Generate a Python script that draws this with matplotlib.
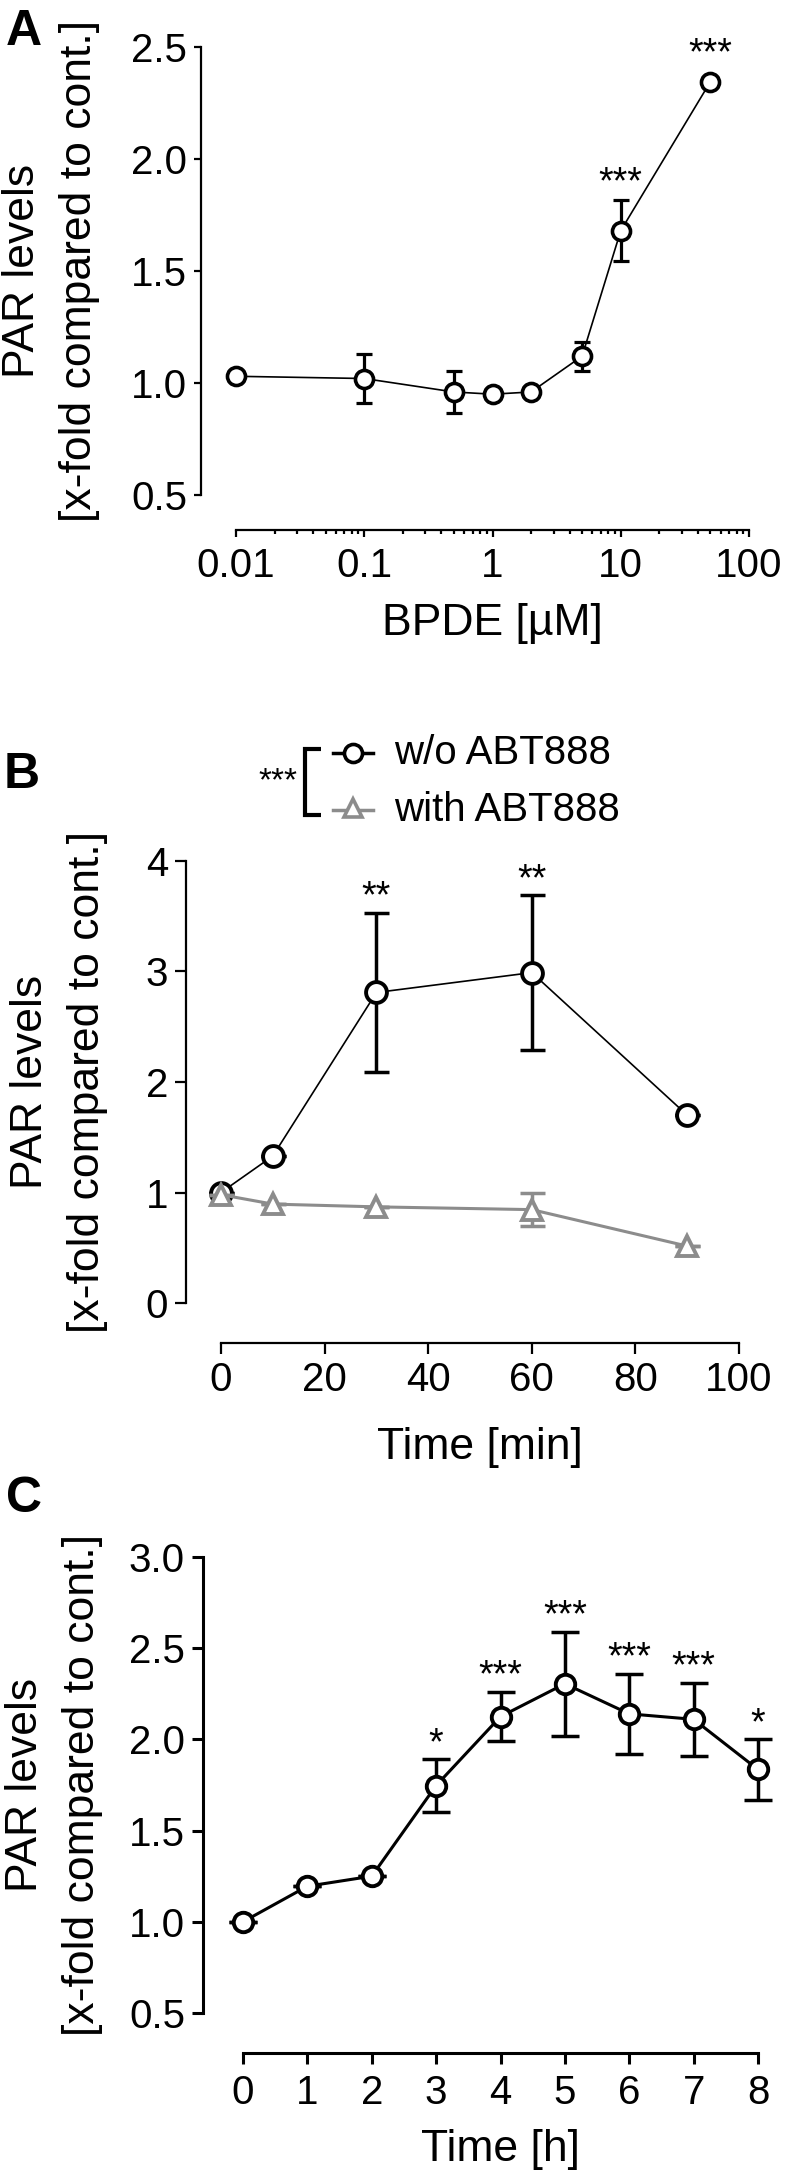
import matplotlib.pyplot as plt
import numpy as np

plt.rcParams['font.family'] = ['Liberation Sans', 'DejaVu Sans']

# panel A - BPDE dose response
bpde_conc = [0.01, 0.1, 0.5, 1, 2, 5, 10, 50]
bpde_par = [1.03, 1.02, 0.96, 0.95, 0.96, 1.12, 1.68, 2.345]
bpde_err = [0.0, 0.11, 0.095, 0.0, 0.0, 0.065, 0.135, 0.0]
bpde_stars = ['', '', '', '', '', '', '***', '***']

# panel B - time course with / without ABT888
time_min = [0, 10, 30, 60, 90]
wo_abt = [1.0, 1.33, 2.81, 2.99, 1.70]
wo_abt_err = [0.0, 0.0, 0.72, 0.70, 0.0]
wo_stars = ['', '', '**', '**', '']
with_abt = [0.98, 0.895, 0.87, 0.845, 0.515]
with_abt_err = [0.0, 0.0, 0.0, 0.15, 0.0]

# panel C - time course in hours
time_h = [0, 1, 2, 3, 4, 5, 6, 7, 8]
par_h = [1.0, 1.195, 1.25, 1.747, 2.125, 2.305, 2.14, 2.11, 1.835]
par_h_err = [0.0, 0.0, 0.0, 0.145, 0.135, 0.285, 0.22, 0.2, 0.165]
par_h_stars = ['', '', '', '*', '***', '***', '***', '***', '*']

ylab1 = 'PAR levels'
ylab2 = '[x-fold compared to cont.]'
gray = '#8c8c8c'

W, H = 787, 2177
fig = plt.figure(figsize=(W / 100, H / 100), dpi=100)


def px_axes(x0, x1, ytop, ybot):
    return fig.add_axes([x0 / W, 1 - ybot / H, (x1 - x0) / W, (ybot - ytop) / H])


def style(ax, left_off, bot_off, lw, tl, xpad):
    for s in ['top', 'right']:
        ax.spines[s].set_visible(False)
    ax.spines['left'].set_position(('outward', left_off * 0.72))
    ax.spines['bottom'].set_position(('outward', bot_off * 0.72))
    for s in ['left', 'bottom']:
        ax.spines[s].set_linewidth(lw)
    ax.tick_params(direction='out', length=tl, width=lw, labelsize=29)
    ax.tick_params(axis='y', pad=5)
    ax.tick_params(axis='x', pad=xpad)
    ax.patch.set_visible(False)


def stars(ax, xs, tops, labels, off=12):
    for x, t, s in zip(xs, tops, labels):
        if s:
            ax.annotate(s, xy=(x, t), xytext=(0, off), textcoords='offset points',
                        ha='center', va='center', fontsize=27, annotation_clip=False)


ov = fig.add_axes([0, 0, 1, 1])
ov.set_xlim(0, W)
ov.set_ylim(H, 0)
ov.axis('off')

# ---------------- A ----------------
axA = px_axes(236, 749, 47, 495)
axA.set_xscale('log')
axA.set_xlim(0.01, 100)
axA.set_ylim(0.5, 2.5)
style(axA, 35, 35, 1.6, 5, 7)
axA.spines['bottom'].set_bounds(0.01, 100)
axA.spines['left'].set_bounds(0.5, 2.5)
axA.set_xticks([0.01, 0.1, 1, 10, 100])
axA.set_xticklabels(['0.01', '0.1', '1', '10', '100'])
axA.xaxis.set_minor_locator(plt.matplotlib.ticker.LogLocator(base=10, subs=np.arange(2, 10)))
axA.xaxis.set_minor_formatter(plt.NullFormatter())
axA.tick_params(axis='x', which='minor', length=3, width=1.6)
axA.set_yticks([0.5, 1.0, 1.5, 2.0, 2.5])
axA.set_yticklabels(['0.5', '1.0', '1.5', '2.0', '2.5'])
axA.errorbar(bpde_conc, bpde_par, yerr=bpde_err, fmt='none', ecolor='black',
             elinewidth=2.3, capsize=6, capthick=2.3, zorder=2, clip_on=False)
axA.plot(bpde_conc, bpde_par, '-o', color='black', lw=1.2, ms=13, mew=2.6,
         mfc='white', zorder=3, clip_on=False)
stars(axA, bpde_conc, [max(v + e, v + 0.05) for v, e in zip(bpde_par, bpde_err)], bpde_stars, 12)
axA.set_xlabel('BPDE [µM]', fontsize=32, labelpad=13)

# ---------------- B ----------------
axB = px_axes(221, 739, 861, 1303)
axB.set_xlim(0, 100)
axB.set_ylim(0, 4)
style(axB, 35, 40, 1.6, 8, 5)
axB.spines['bottom'].set_bounds(0, 100)
axB.spines['left'].set_bounds(0, 4)
axB.set_xticks([0, 20, 40, 60, 80, 100])
axB.set_yticks([0, 1, 2, 3, 4])
axB.errorbar(time_min, wo_abt, yerr=wo_abt_err, fmt='none', ecolor='black',
             elinewidth=2.5, capsize=9, capthick=2.5, zorder=2, clip_on=False)
axB.plot(time_min, wo_abt, '-o', color='black', lw=1.2, ms=15, mew=2.8,
         mfc='white', zorder=3, clip_on=False)
axB.errorbar(time_min, with_abt, yerr=with_abt_err, fmt='none', ecolor=gray,
             elinewidth=2.5, capsize=9, capthick=2.5, zorder=4, clip_on=False)
axB.plot(time_min, with_abt, '-^', color=gray, lw=2.2, ms=15, mew=2.8,
         mfc='white', zorder=5, clip_on=False)
stars(axB, time_min, [v + e for v, e in zip(wo_abt, wo_abt_err)], wo_stars, 11)
axB.set_xlabel('Time [min]', fontsize=32, labelpad=20)

# legend with bracket
ov.plot([333, 373], [753, 753], color='black', lw=2.5)
ov.plot([353], [753], 'o', color='black', ms=13, mew=2.6, mfc='white')
ov.plot([333, 373], [810, 810], color=gray, lw=2.5)
ov.plot([353], [808], '^', color=gray, ms=13, mew=2.6, mfc='white')
ov.text(394, 753, 'w/o ABT888', fontsize=29, va='center', ha='left')
ov.text(394, 810, 'with ABT888', fontsize=29, va='center', ha='left')
ov.plot([321, 305, 305, 321], [749, 749, 815, 815], color='black', lw=3,
        solid_capstyle='butt', solid_joinstyle='miter')
ov.text(297, 782, '***', fontsize=24, ha='right', va='center')

# ---------------- C ----------------
axC = px_axes(243, 758, 1557, 2013)
axC.set_xlim(0, 8)
axC.set_ylim(0.5, 3.0)
style(axC, 40, 40, 2.2, 8, 7)
axC.spines['bottom'].set_bounds(0, 8)
axC.spines['left'].set_bounds(0.5, 3.0)
axC.set_xticks(time_h)
axC.set_yticks([0.5, 1.0, 1.5, 2.0, 2.5, 3.0])
axC.set_yticklabels(['0.5', '1.0', '1.5', '2.0', '2.5', '3.0'])
axC.errorbar(time_h, par_h, yerr=par_h_err, fmt='none', ecolor='black',
             elinewidth=2.5, capsize=10, capthick=2.5, zorder=2, clip_on=False)
axC.plot(time_h, par_h, '-o', color='black', lw=2.2, ms=14, mew=2.8,
         mfc='white', zorder=3, clip_on=False)
stars(axC, time_h, [v + e for v, e in zip(par_h, par_h_err)], par_h_stars, 11)
axC.set_xlabel('Time [h]', fontsize=32, labelpad=12)

# y labels (two lines, drawn separately) and panel letters
for x1, x2, yc in [(23, 80, 271), (31, 88, 1082), (26, 83, 1785)]:
    ov.text(x1, yc, ylab1, rotation=90, fontsize=32, ha='center', va='center')
    ov.text(x2, yc, ylab2, rotation=90, fontsize=32, ha='center', va='center')
for lab, xc, yc in [('A', 24, 32), ('B', 22, 775), ('C', 24, 1499)]:
    ov.text(xc, yc, lab, fontsize=36, fontweight='bold', ha='center', va='center')

fig.savefig('out.png', dpi=100)
